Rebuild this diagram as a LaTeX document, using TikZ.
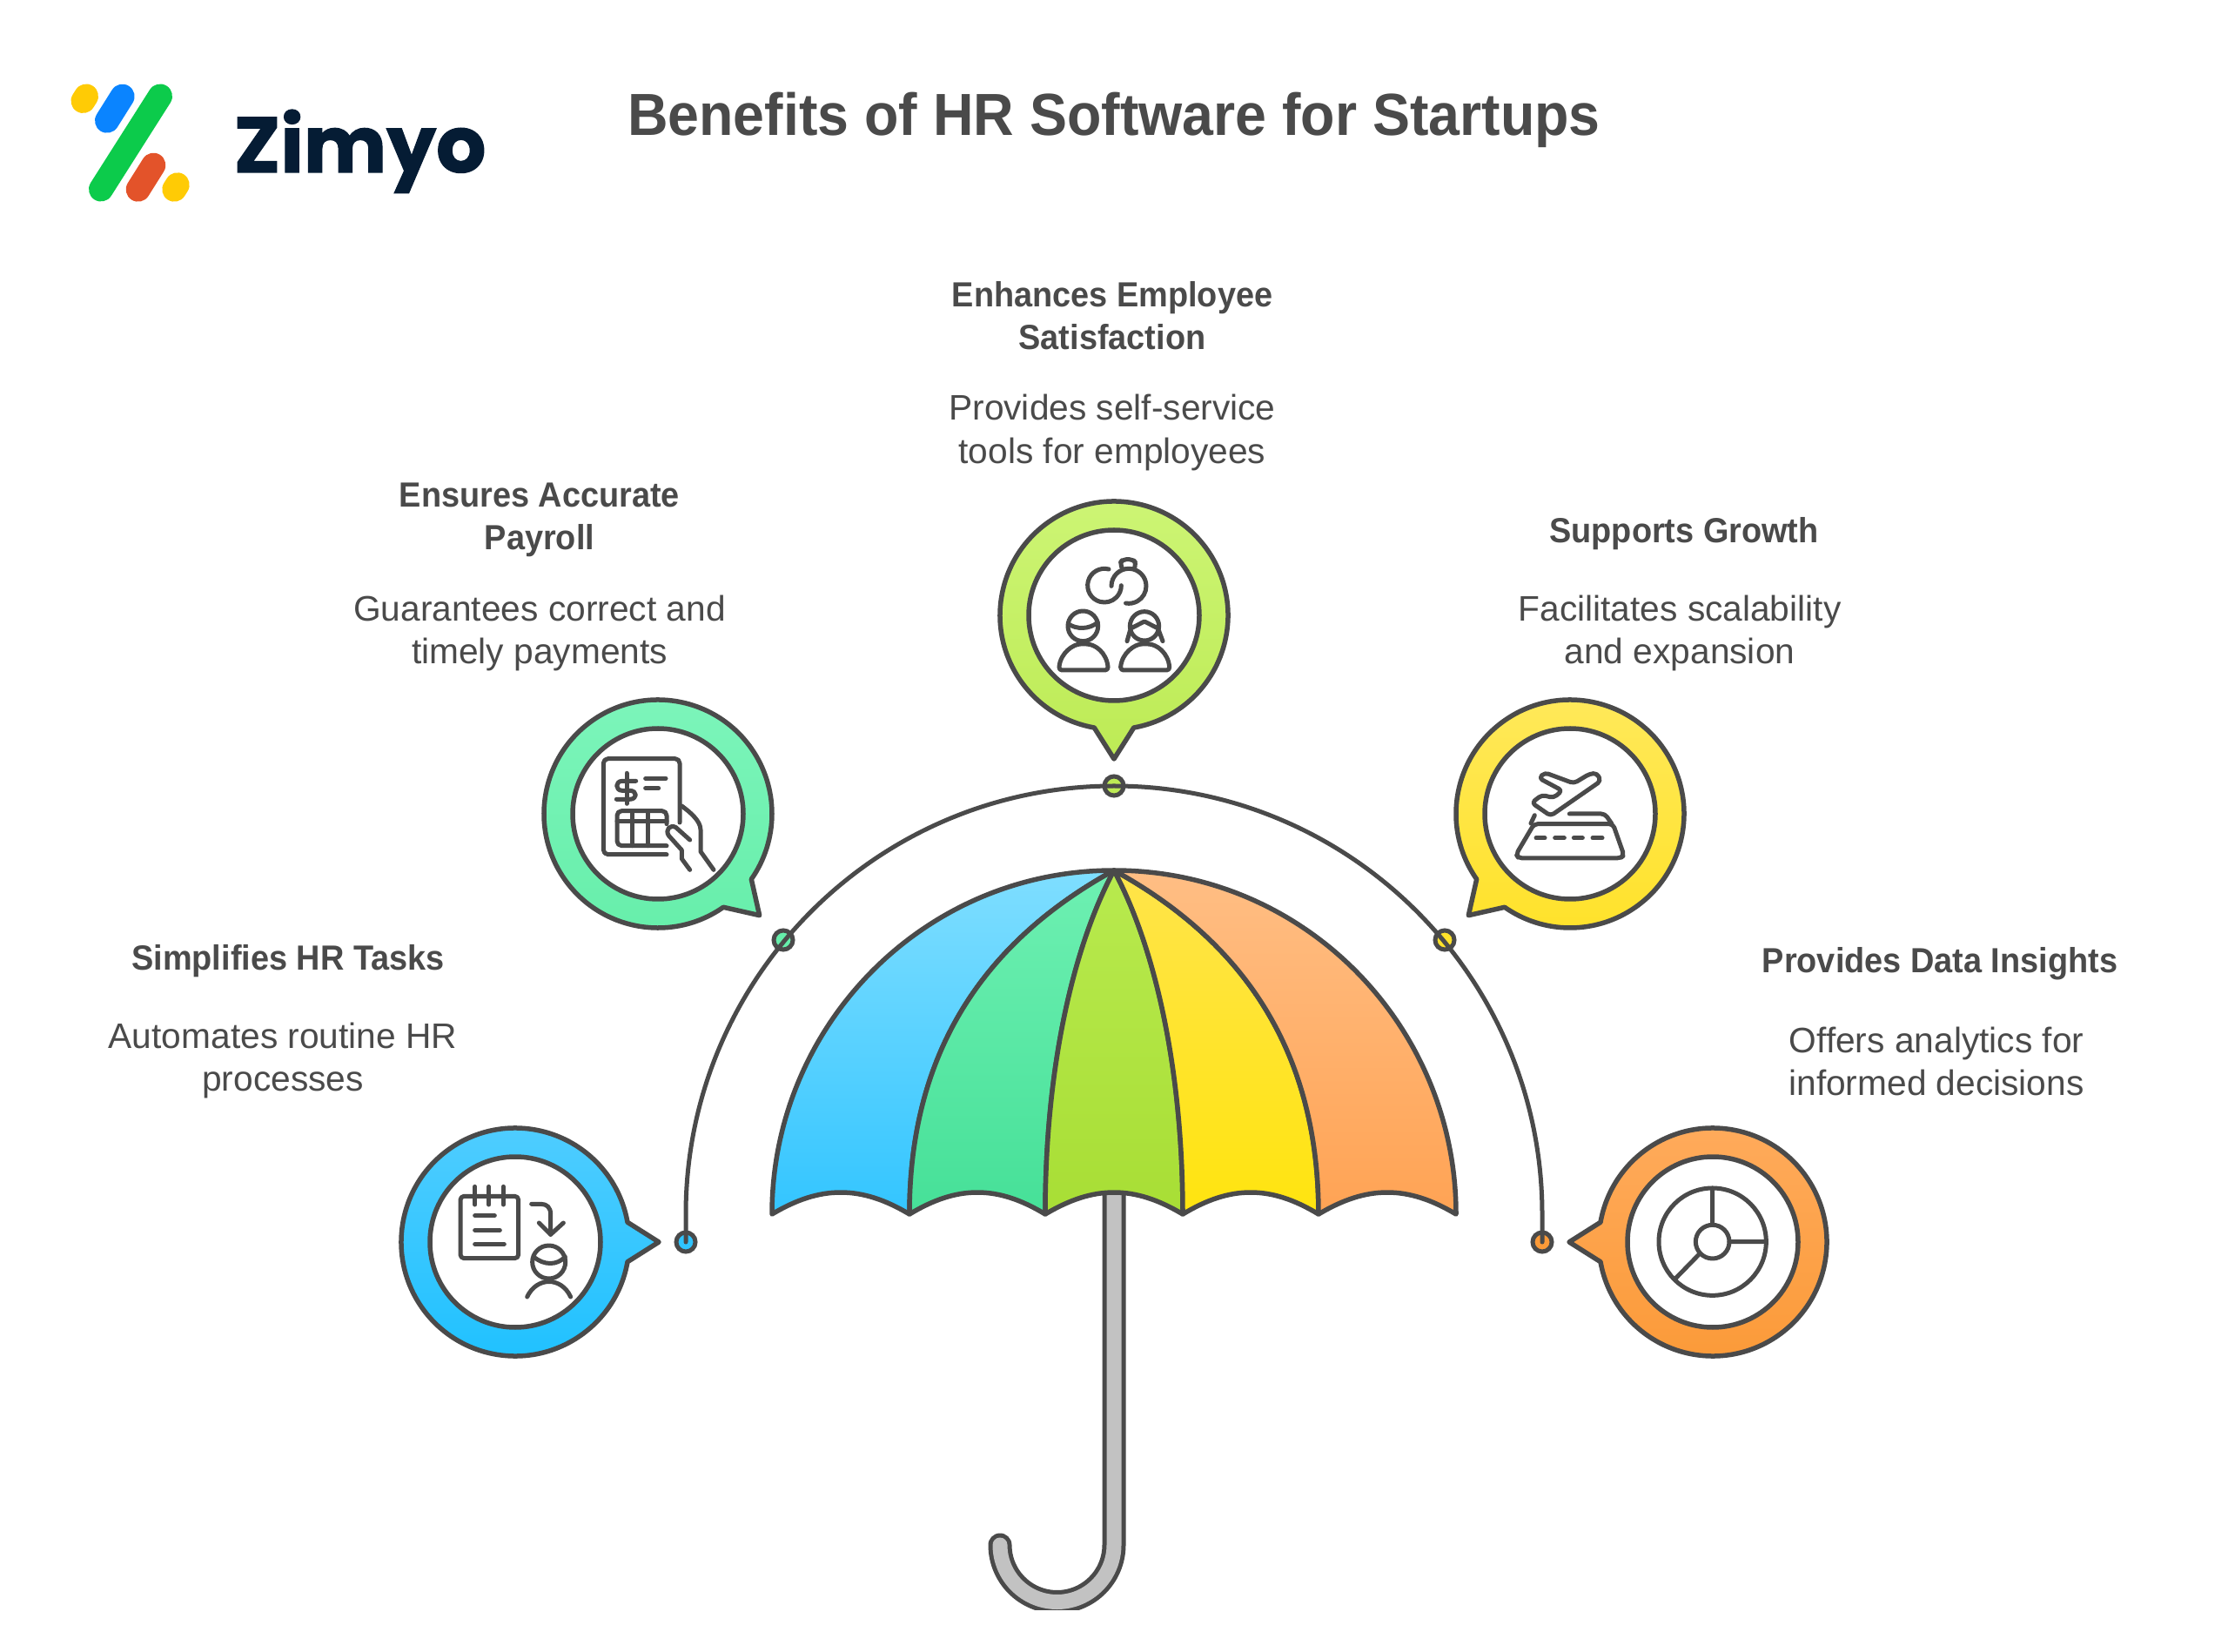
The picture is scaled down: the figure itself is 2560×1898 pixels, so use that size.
\documentclass[tikz,border=0pt]{standalone}
\usepackage{fontspec}
\setmainfont[BoldFeatures={FakeStretch=0.945}]{Liberation Sans}
\newfontfamily\logofont[BoldFeatures={FakeBold=1.2}]{Poppins}
\usetikzlibrary{calc}
\definecolor{ink}{HTML}{4A4A4A}
\definecolor{dotblue}{HTML}{2FC4FF}
\definecolor{dotgreen}{HTML}{66EEAA}
\definecolor{dotlime}{HTML}{BDEB55}
\definecolor{dotyellow}{HTML}{FFE22A}
\definecolor{dotorange}{HTML}{FB9A38}
\definecolor{logoy}{HTML}{FFCB05}
\definecolor{logob}{HTML}{0A84FF}
\definecolor{logog}{HTML}{0CCB4B}
\definecolor{logor}{HTML}{E3532A}
\definecolor{logot}{HTML}{051C34}
\definecolor{pa}{RGB}{127,222,255}\definecolor{pA}{RGB}{51,197,255}
\definecolor{pb}{RGB}{110,240,178}\definecolor{pB}{RGB}{70,224,152}
\definecolor{pc}{RGB}{184,234,78}\definecolor{pC}{RGB}{168,222,53}
\definecolor{pd}{RGB}{255,228,74}\definecolor{pD}{RGB}{255,228,15}
\definecolor{pe}{RGB}{255,190,132}\definecolor{pE}{RGB}{255,163,84}
\definecolor{ba}{RGB}{80,205,255}\definecolor{bA}{RGB}{31,193,255}
\definecolor{bb}{RGB}{125,245,187}\definecolor{bB}{RGB}{102,238,170}
\definecolor{bc}{RGB}{205,245,117}\definecolor{bC}{RGB}{189,235,85}
\definecolor{bd}{RGB}{255,233,92}\definecolor{bD}{RGB}{255,226,42}
\definecolor{be}{RGB}{255,171,92}\definecolor{bE}{RGB}{251,154,56}
\tikzset{
  line/.style={draw=ink,line width=0.055cm,line join=round,line cap=round},
  thin line/.style={draw=ink,line width=0.05cm,line join=round,line cap=round},
  panel/.style={draw=ink,line width=0.055cm,line join=round},
  dotnode/.style={circle,draw=ink,line width=0.05cm,minimum size=0.22cm,inner sep=0pt},
  head/.style={text=ink,align=center,font=\bfseries\fontsize{11.4pt}{13.94pt}\selectfont},
  desc/.style={text=ink,align=center,font=\fontsize{11.57pt}{13.94pt}\selectfont},
  logobar/.style={line width=0.28cm,line cap=round},
}
\newcommand\bubble[5]{%
  \path[line,top color=#4,bottom color=#5] ($(#1,#2)+(#3+10:131)$) arc[start angle=#3+10,end angle=#3+350,radius=131] -- ($(#1,#2)+(#3:165)$) -- cycle;
  \draw[line,fill=white] (#1,#2) circle[radius=98];}
\newcommand\scal[2]{.. controls ({#1+0.18*(#2-#1)},1378) and ({#1+0.34*(#2-#1)},1370) .. ({(#1+#2)/2},1370) .. controls ({#1+0.66*(#2-#1)},1370) and ({#1+0.82*(#2-#1)},1378) .. (#2,1395)}
\begin{document}
\begin{tikzpicture}[x=0.01cm,y=-0.01cm]
\useasboundingbox[fill=white] (0,0) rectangle (2560,1898);
% logo
\draw[logobar,draw=logoy] (99,110.5) -- (95.5,116);
\draw[logobar,draw=logob] (140.6,110.7) -- (123,138.7);
\draw[logobar,draw=logog] (184,110.5) -- (116,217.5);
\draw[logobar,draw=logor] (176.3,189.7) -- (158.7,217.7);
\draw[logobar,draw=logoy] (203.7,212.3) -- (200.3,217.7);
\node[anchor=base west,inner sep=0pt,text=logot,font=\logofont\bfseries\fontsize{25.6pt}{30pt}\selectfont] (logo) at (268,198) {Zimyo};
% title
\node[anchor=base,inner sep=0pt,text=ink,font=\bfseries\fontsize{19.4pt}{22pt}\selectfont] (title) at (1280,156) {Benefits of HR Software for Startups};
% handle
\begin{scope}
\clip (1100,1360) rectangle (1400,1849);
\draw[draw=ink,line width=0.27cm,line cap=round] (1280,1372) -- (1280,1775) arc[start angle=0,end angle=180,radius=65.5];
\draw[draw=black!24,line width=0.17cm,line cap=round] (1280,1372) -- (1280,1775) arc[start angle=0,end angle=180,radius=65.5];
\end{scope}
% canopy
\path[panel,top color=pa,bottom color=pA]
  (887,1395) .. controls (887,1180) and (1060,1000) .. (1280,1000) .. controls (1125,1085) and (1045,1215) .. (1045,1395) \scal{1045}{887} -- cycle;
\path[panel,top color=pb,bottom color=pB]
  (1045,1395) .. controls (1045,1215) and (1125,1085) .. (1280,1000) .. controls (1232,1090) and (1201,1230) .. (1201,1395) \scal{1201}{1045} -- cycle;
\path[panel,top color=pc,bottom color=pC]
  (1201,1395) .. controls (1201,1230) and (1232,1090) .. (1280,1000) .. controls (1328,1090) and (1359,1230) .. (1359,1395) \scal{1359}{1201} -- cycle;
\path[panel,top color=pd,bottom color=pD]
  (1359,1395) .. controls (1359,1230) and (1328,1090) .. (1280,1000) .. controls (1435,1085) and (1515,1215) .. (1515,1395) \scal{1515}{1359} -- cycle;
\path[panel,top color=pe,bottom color=pE]
  (1515,1395) .. controls (1515,1215) and (1435,1085) .. (1280,1000) .. controls (1500,1000) and (1673,1180) .. (1673,1395) \scal{1673}{1515} -- cycle;
% dots and arc
\node[dotnode,fill=dotblue] (d1) at (788,1427) {};
\node[dotnode,fill=dotgreen] (d2) at (900,1080) {};
\node[dotnode,fill=dotlime] (d3) at (1280,903) {};
\node[dotnode,fill=dotyellow] (d4) at (1660,1080) {};
\node[dotnode,fill=dotorange] (d5) at (1772,1427) {};
\draw[thin line] (d1.center) -- (788,1395) arc[start angle=180,end angle=360,radius=492] -- (d5.center);
% bubbles
\bubble{592}{1427}{0}{ba}{bA}
\bubble{756}{935}{45}{bb}{bB}
\bubble{1280}{707}{90}{bc}{bC}
\bubble{1804}{935}{135}{bd}{bD}
\bubble{1968}{1427}{180}{be}{bE}
% icon 1
\begin{scope}[shift={(440,1270)},scale=1/3,every path/.style={thin line}]
\draw[rounded corners=1.2pt] (267,313) rectangle (467,527);
\draw (317,280)--(317,342) (365,280)--(365,342) (415,280)--(415,342);
\draw (317,380)--(385,380) (317,430)--(403,430) (317,478)--(418,478);
\draw (512,340)--(545,340) .. controls (565,340) and (578,352) .. (578,375) -- (578,445);
\draw (538,405)--(578,445)--(622,405);
\draw (572,540) circle[radius=57];
\draw (520,522) .. controls (555,552) and (600,552) .. (628,522);
\draw (497,660) .. controls (530,590) and (615,590) .. (647,660);
\end{scope}
% icon 2
\begin{scope}[shift={(610,790)},scale=1/3,every path/.style={thin line}]
\draw[rounded corners=1.5pt] (468,575)--(250,575)--(250,245)--(513,245)--(513,465);
\draw (362,322)--(315,322) .. controls (290,322) and (290,355) .. (315,355)--(340,355) .. controls (368,355) and (368,385) .. (340,385)--(295,385);
\draw (330,295)--(330,400);
\draw (395,313)--(465,313) (395,347)--(440,347);
\draw[rounded corners=1.5pt] (468,545)--(297,545)--(297,425)--(468,425)--(468,470);
\draw (297,460)--(468,460) (350,425)--(350,545) (403,425)--(403,545);
\draw (520,408) .. controls (550,430) and (585,460) .. (585,490)--(585,565)--(630,628);
\draw (548,525)--(500,482) .. controls (480,470) and (462,490) .. (475,510)--(520,560)--(520,590)--(548,628);
\end{scope}
% icon 3
\begin{scope}[shift={(1130,560)},scale=1/3,every path/.style={thin line}]
\draw (432,282) arc[start angle=-75,end angle=-360,radius=58];
\draw (441,340) arc[start angle=180,end angle=460,radius=60];
\draw[rounded corners=1.2pt] (478,278) -- (470,262) -- (480,248) -- (515,248) -- (527,262) -- (520,278);
\draw (343,478) circle[radius=52];
\draw (292,470) .. controls (320,490) and (365,490) .. (394,465);
\draw[rounded corners=1pt] (260,630) .. controls (265,570) and (310,540) .. (345,540) .. controls (385,540) and (425,570) .. (430,630) -- cycle;
\draw (555,478) circle[radius=50];
\draw (510,485)--(555,462)--(600,485);
\draw (505,495) -- (495,530) (605,495) -- (618,530);
\draw[rounded corners=1pt] (472,630) .. controls (477,570) and (522,540) .. (557,540) .. controls (597,540) and (637,570) .. (642,630) -- cycle;
\end{scope}
% icon 4
\begin{scope}[shift={(1660,790)},scale=1/3,every path/.style={thin line}]
\draw[rounded corners=1.2pt] (325,312) -- (345,293) -- (445,330) -- (500,297) -- (525,295) -- (538,322) -- (365,442) -- (300,397) -- (335,370) -- (375,380) -- (405,355) -- cycle;
\draw[rounded corners=1.2pt] (308,470) -- (580,470) -- (618,578) -- (605,588) -- (255,588) -- (246,575) -- cycle;
\draw (310,440) -- (297,468);
\draw[rounded corners=1.2pt] (430,435) -- (552,435) -- (575,468);
\draw (315,518)--(345,518) (380,518)--(412,518) (445,518)--(475,518) (510,518)--(543,518);
\end{scope}
% icon 5
\begin{scope}[shift={(1780,1270)},scale=1/3,every path/.style={thin line}]
\draw (563,470) circle[radius=185];
\draw (563,470) circle[radius=58];
\draw (563,285)--(563,412) (621,470)--(748,470) (520,510)--(437,595);
\end{scope}
% texts
\node[head] (h3) at (1278,363) {Enhances Employee\\Satisfaction};
\node[desc] (b3) at (1278,497) {Provides self-service\\tools for employees};
\node[head] (h2) at (620,597) {Ensures Accurate\\Payroll};
\node[desc] (b2) at (620,727) {Guarantees correct and\\timely payments};
\node[head] (h4) at (1935,613) {Supports Growth};
\node[desc] (b4) at (1930,727) {Facilitates scalability\\and expansion};
\node[head] (h1) at (331,1104) {Simplifies HR Tasks};
\node[desc] (b1) at (325,1218) {Automates routine HR\\processes};
\node[head] (h5) at (2229,1107) {Provides Data Insights};
\node[desc] (b5) at (2225,1219) {Offers analytics for\\informed decisions};
\end{tikzpicture}
\end{document}
